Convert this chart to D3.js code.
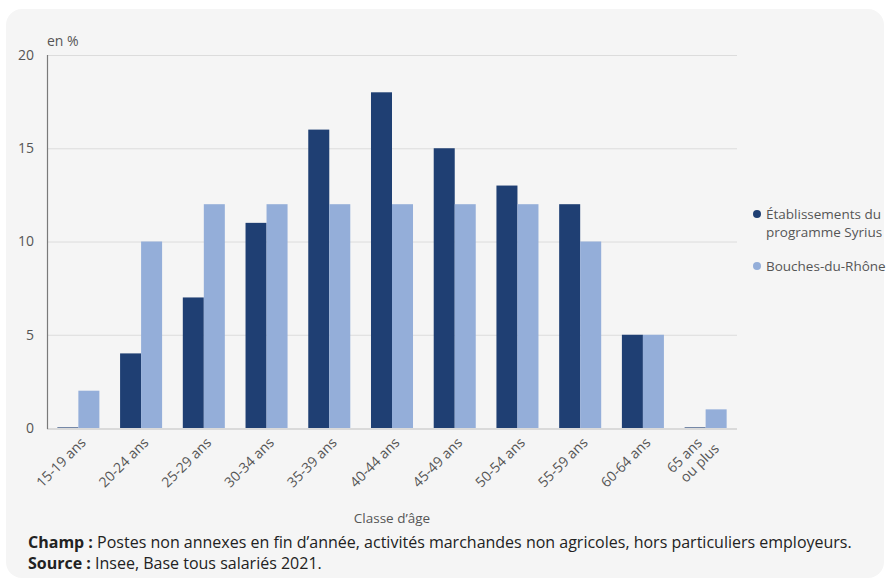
<!DOCTYPE html>
<html lang="fr">
<head>
<meta charset="utf-8">
<script src="https://cdn.jsdelivr.net/npm/d3@7"></script>
<style>
  html, body { margin: 0; padding: 0; background: #ffffff; }
  svg { display: block; font-family: "Open Sans", "Noto Sans", sans-serif; }
</style>
</head>
<body>
<svg id="chart" width="887" height="584"></svg>
<script>
// Age classes (x axis)
const categories = [
  ["15-19 ans"], ["20-24 ans"], ["25-29 ans"], ["30-34 ans"], ["35-39 ans"],
  ["40-44 ans"], ["45-49 ans"], ["50-54 ans"], ["55-59 ans"], ["60-64 ans"],
  ["65 ans", "ou plus"]
];
// Share of employees per age class, in %
const syrius = [0, 4, 7, 11, 16, 18, 15, 13, 12, 5, 0];
const bouches = [2, 10, 12, 12, 12, 12, 12, 12, 10, 5, 1];
const seriesNames = [["Établissements du", "programme Syrius"], ["Bouches-du-Rhône"]];
const seriesColors = ["#1f3f73", "#94aed9"];
const yTicks = [0, 5, 10, 15, 20];

const svg = d3.select("#chart");

// Panel background
svg.append("rect")
  .attr("x", 6).attr("y", 9).attr("width", 878).attr("height", 569)
  .attr("rx", 16).attr("fill", "#f5f5f5");

const plotLeft = 47, plotRight = 737, plotTop = 55, plotBottom = 428;
const catKeys = categories.map(c => c.join(" "));

const x0 = d3.scaleBand().domain(catKeys).range([plotLeft, plotRight])
  .paddingInner(0.33).paddingOuter(0.165);
const x1 = d3.scaleBand().domain([0, 1]).range([0, x0.bandwidth()]);
const y = d3.scaleLinear().domain([0, 20]).range([plotBottom, plotTop]);

// Y tick labels
const yAxis = d3.axisLeft(y).tickValues(yTicks).tickSize(0).tickPadding(13);
const gy = svg.append("g").attr("transform", `translate(${plotLeft},0)`).call(yAxis);
gy.select(".domain").remove();
gy.selectAll("text").attr("fill", "#555").attr("font-size", 14)
  .attr("font-family", "'Open Sans', sans-serif");

// Horizontal gridlines
svg.append("g").selectAll("line")
  .data(yTicks.filter(t => t > 0))
  .join("line")
  .attr("x1", plotLeft).attr("x2", plotRight)
  .attr("y1", d => y(d) + 0.5).attr("y2", d => y(d) + 0.5)
  .attr("stroke", "#dcdcdc").attr("stroke-width", 1);

// Bars
const rows = catKeys.map((k, i) => ({ key: k, values: [syrius[i], bouches[i]] }));
const groups = svg.append("g").selectAll("g")
  .data(rows).join("g")
  .attr("transform", d => `translate(${x0(d.key)},0)`);
groups.selectAll("rect")
  .data(d => d.values.map((v, s) => ({ v, s })))
  .join("rect")
  .attr("x", d => x1(d.s))
  .attr("width", x1.bandwidth())
  .attr("y", d => Math.min(y(d.v), plotBottom - 1))
  .attr("height", d => Math.max(plotBottom - y(d.v), 1))
  .attr("fill", d => seriesColors[d.s])
  .attr("fill-opacity", d => d.v === 0 ? 0.6 : 1);

// Baseline and vertical axis line
svg.append("line")
  .attr("x1", plotLeft).attr("x2", plotRight).attr("y1", plotBottom + 1).attr("y2", plotBottom + 1)
  .attr("stroke", "#dadada").attr("stroke-width", 2);
svg.append("line")
  .attr("x1", plotLeft + 0.5).attr("x2", plotLeft + 0.5).attr("y1", plotTop).attr("y2", plotBottom + 1)
  .attr("stroke", "#7a7a7a").attr("stroke-width", 1.2);

// Category labels, rotated
const xl = svg.append("g").selectAll("text")
  .data(categories).join("text")
  .attr("transform", (d, i) => `translate(${x0(catKeys[i]) + x0.bandwidth() / 2 + 5},${plotBottom + 12}) rotate(-45)`)
  .attr("text-anchor", "end")
  .attr("fill", "#555").attr("font-size", 14);
xl.each(function (d) {
  const t = d3.select(this);
  d.forEach((line, j) => {
    t.append("tspan")
      .attr("x", d.length > 1 && j === 0 ? -8 : 0)
      .attr("dy", j === 0 ? (d.length > 1 ? "-0.2em" : "0.35em") : "1.15em")
      .text(line);
  });
});

// Axis titles
svg.append("text").attr("x", plotLeft).attr("y", 46)
  .attr("fill", "#555").attr("font-size", 14).text("en %");
svg.append("text").attr("x", (plotLeft + plotRight) / 2).attr("y", 523)
  .attr("text-anchor", "middle").attr("fill", "#555").attr("font-size", 13.5)
  .text("Classe d’âge");

// Legend
const legY = [214, 266];
seriesNames.forEach((name, i) => {
  svg.append("circle").attr("cx", 757).attr("cy", legY[i]).attr("r", 4)
    .attr("fill", seriesColors[i]);
  const t = svg.append("text").attr("x", 766).attr("y", legY[i] + 5)
    .attr("fill", "#555").attr("font-size", 13.5);
  name.forEach((line, j) => {
    t.append("tspan").attr("x", 766).attr("dy", j === 0 ? 0 : 18).text(line);
  });
});

// Notes
const notes = [
  ["Champ :", " Postes non annexes en fin d’année, activités marchandes non agricoles, hors particuliers employeurs."],
  ["Source :", " Insee, Base tous salariés 2021."]
];
notes.forEach((n, i) => {
  const t = svg.append("text").attr("x", 28).attr("y", 548 + i * 21)
    .attr("fill", "#222").attr("font-size", 16);
  t.append("tspan").attr("font-weight", "bold").text(n[0]);
  t.append("tspan").text(n[1]);
});
</script>
</body>
</html>
